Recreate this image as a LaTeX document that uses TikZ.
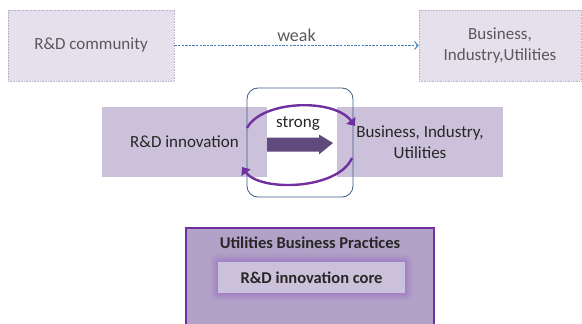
\documentclass[tikz,border=0pt]{standalone}
\usepackage{fontspec}
\setmainfont{Carlito}
\usetikzlibrary{arrows.meta}
\definecolor{paleLav}{HTML}{E6E0EC}
\definecolor{paleEdge}{HTML}{B9AECB}
\definecolor{bandLav}{HTML}{CCC1DA}
\definecolor{deepPurple}{HTML}{7030A0}
\definecolor{slatePurple}{HTML}{604A7B}
\definecolor{frameBlue}{HTML}{3E5C84}
\definecolor{weakBlue}{HTML}{4A7EBB}
\definecolor{outerLav}{HTML}{B3A2C7}
\definecolor{glowLav}{HTML}{9B72C4}
\definecolor{greyText}{HTML}{595959}
\definecolor{darkText}{HTML}{262626}
\tikzset{
  softbox/.style={draw=paleEdge, densely dotted, fill=paleLav, line width=0.6pt,
    text=greyText, font=\fontsize{17}{21}\selectfont, align=center},
  bandbox/.style={fill=bandLav, draw=none, text=darkText,
    font=\fontsize{17}{21}\selectfont, align=center},
  cyclearrow/.style={draw=deepPurple, line width=2.4pt,
    -{Triangle[length=7pt,width=11pt]}},
  boldlabel/.style={font=\bfseries\fontsize{16.5}{19}\selectfont, text=darkText},
}
\begin{document}
\begin{tikzpicture}[x=1pt,y=-1pt]
  \useasboundingbox (0,0) rectangle (582,324);

  % top row: weak link
  \node[softbox, minimum width=166pt, minimum height=71pt] (comm) at (91,45.5) {R\&D community};
  \node[softbox, minimum width=162pt, minimum height=71pt] (biz) at (500,45.5) {Business,\\Industry,Utilities};
  \draw[weakBlue, dash pattern=on 2.4pt off 1.2pt, line width=1pt, -{Straight Barb[length=3.5pt,width=8pt]}]
    (comm.east) -- node[above=0pt, text=greyText, font=\fontsize{18}{21}\selectfont] (weak) {weak} (biz.west);

  % middle row: strong link
  \node[bandbox, minimum width=165pt, minimum height=70pt] (innov) at (184.5,142) {R\&D innovation};
  \node[bandbox, minimum width=166pt, minimum height=70pt] (bizm) at (420,142) {Business, Industry,\\Utilities};
  \node[draw=frameBlue, line width=0.8pt, rounded corners=11pt,
        minimum width=106pt, minimum height=109pt] (frame) at (300,142.5) {};
  \coordinate (ta) at (247,128);
  \coordinate (tb) at (355,126);
  \coordinate (ba) at (352,158);
  \coordinate (bb) at (242,167);
  \draw[cyclearrow] (ta) .. controls (262,100) and (334,98) .. (tb);
  \draw[cyclearrow] (ba) .. controls (338,190) and (260,192) .. (bb);
  \coordinate (sa) at (267,143);
  \coordinate (sb) at (333,143);
  \fill[slatePurple] (sa) ++(0,-5.5) -- ++(52,0) -- ++(0,-3) -- (sb) -- ++(-14,11.5) -- ++(0,-3) -- ++(-52,0) -- cycle;
  \node[text=darkText, font=\fontsize{17}{20}\selectfont] (strong) at (298,124) {strong};

  % bottom: nested practices
  \node[draw=deepPurple, fill=outerLav, line width=2.4pt, minimum width=248pt, minimum height=110pt] (outer) at (310,283) {};
  \node[boldlabel] (title) at (310,243) {Utilities Business Practices};
  \foreach \g/\o in {9/0.08,7/0.12,5/0.16,3/0.22,1.5/0.3}{
    \fill[glowLav, opacity=\o, rounded corners=\g pt] (218-\g,262-\g) rectangle (405+\g,293+\g);
  }
  \node[fill=bandLav, minimum width=187pt, minimum height=31pt, boldlabel] (core) at (311.5,277.5) {R\&D innovation core};
\end{tikzpicture}
\end{document}
